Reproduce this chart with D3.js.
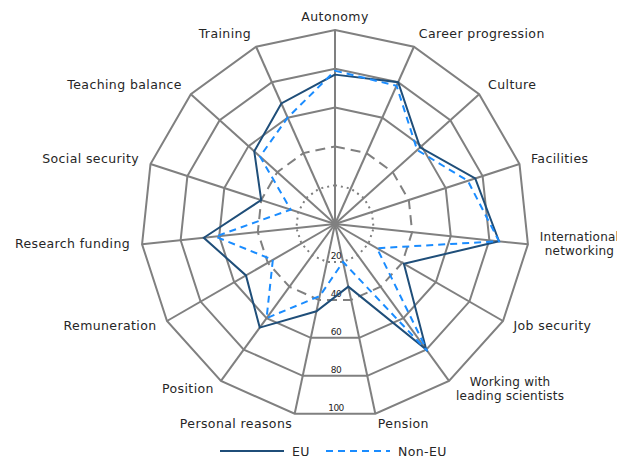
<!DOCTYPE html>
<html>
<head>
<meta charset="utf-8">
<script src="https://cdn.jsdelivr.net/npm/d3@7"></script>
<style>
  body { margin: 0; background: #fff; }
  text { font-family: "DejaVu Sans", sans-serif; fill: #262626; }
</style>
</head>
<body>
<svg id="chart" width="617" height="457"></svg>
<script>
// axes, clockwise from top
var categories = ["Autonomy", "Career progression", "Culture", "Facilities",
  "International networking", "Job security", "Working with leading scientists",
  "Pension", "Personal reasons", "Position", "Remuneration", "Research funding",
  "Social security", "Teaching balance", "Training"];
// how labels break onto lines
var labelLines = {
  "International networking": ["International", "networking"],
  "Working with leading scientists": ["Working with", "leading scientists"]
};
var euValues    = [77, 80, 59, 76, 85, 41, 80, 33, 46, 66, 53, 68, 40, 56, 68];
var nonEuValues = [79, 78, 57, 72, 85, 25, 81, 20, 38, 60, 37, 62, 24, 52, 60];
var tickValues = [20, 40, 60, 80, 100];

var series = [
  {name: "EU", values: euValues, color: "#1f4e79", dash: null},
  {name: "Non-EU", values: nonEuValues, color: "#1a8cff", dash: "7,5"}
];

var svg = d3.select("#chart");
var cx = 335, cy = 224, R = 194;
var n = categories.length;

var r = d3.scaleLinear().domain([0, 100]).range([0, R]);
var angle = d3.scaleLinear().domain([0, n]).range([0, 2 * Math.PI]);

function pt(i, v) {
  var a = angle(i);
  return [cx + r(v) * Math.sin(a), cy - r(v) * Math.cos(a)];
}

var grid = svg.append("g").attr("id", "grid");

// spokes
grid.selectAll("line.spoke").data(categories).enter().append("line")
  .attr("class", "spoke")
  .attr("x1", cx).attr("y1", cy)
  .attr("x2", function(d, i){ return pt(i, 100)[0]; })
  .attr("y2", function(d, i){ return pt(i, 100)[1]; })
  .attr("stroke", "#808080").attr("stroke-width", 2);

// rings: 20 dotted, 40 dashed, rest solid
var ringDash = {20: "2,4", 40: "10,6"};
grid.selectAll("path.ring").data(tickValues).enter().append("path")
  .attr("class", "ring")
  .attr("d", function(t){
    return d3.line()(d3.range(n).map(function(i){ return pt(i, t); })) + "Z";
  })
  .attr("fill", "none")
  .attr("stroke", "#808080").attr("stroke-width", 2)
  .attr("stroke-dasharray", function(t){ return ringDash[t] || null; });

// tick labels along the bottom
grid.selectAll("text.tick").data(tickValues).enter().append("text")
  .attr("class", "tick")
  .attr("x", cx + 1)
  .attr("y", function(t){ return cy + r(t) * Math.cos(Math.PI / n) - 3; })
  .attr("text-anchor", "middle")
  .attr("font-size", 9)
  .attr("letter-spacing", -0.5)
  .text(function(t){ return t; });

// series
var line = d3.line();
svg.selectAll("path.series").data(series).enter().append("path")
  .attr("class", "series")
  .attr("d", function(s){
    return line(s.values.map(function(v, i){ return pt(i, v); })) + "Z";
  })
  .attr("fill", "none")
  .attr("stroke", function(s){ return s.color; })
  .attr("stroke-width", 2)
  .attr("stroke-dasharray", function(s){ return s.dash; });

// category labels
var labels = svg.append("g").attr("id", "labels");
categories.forEach(function(c, i){
  var a = angle(i);
  var p = pt(i, 100 + 12 / R * 100);
  var s = Math.sin(a);
  var anchor = s > 0.1 ? "start" : (s < -0.1 ? "end" : "middle");
  var lines = labelLines[c] || [c];
  var multi = lines.length > 1;
  var t = labels.append("text")
    .attr("font-size", multi ? 12 : 12.5)
    .attr("letter-spacing", multi ? 0.2 : 0.4)
    .attr("text-anchor", multi ? "middle" : anchor);
  var lh = 14;
  lines.forEach(function(l, k){
    t.append("tspan").attr("x", p[0]).attr("y", p[1] - 2 + 4.5 + (k - (lines.length - 1) / 2) * lh).text(l);
  });
  if (multi) {
    var w = t.node().getBBox().width;
    var shift = anchor == "start" ? w / 2 : (anchor == "end" ? -w / 2 : 0);
    t.selectAll("tspan").attr("x", p[0] + shift);
  }
});

// legend
var legend = svg.append("g").attr("id", "legend");
var legendX = [220, 326];
series.forEach(function(s, i){
  legend.append("line")
    .attr("x1", legendX[i]).attr("x2", legendX[i] + 64)
    .attr("y1", 451).attr("y2", 451)
    .attr("stroke", s.color).attr("stroke-width", 2)
    .attr("stroke-dasharray", s.dash);
  legend.append("text")
    .attr("x", legendX[i] + 72).attr("y", 455.5)
    .attr("font-size", 12.5)
    .attr("letter-spacing", 0.4)
    .text(s.name);
});
</script>
</body>
</html>
